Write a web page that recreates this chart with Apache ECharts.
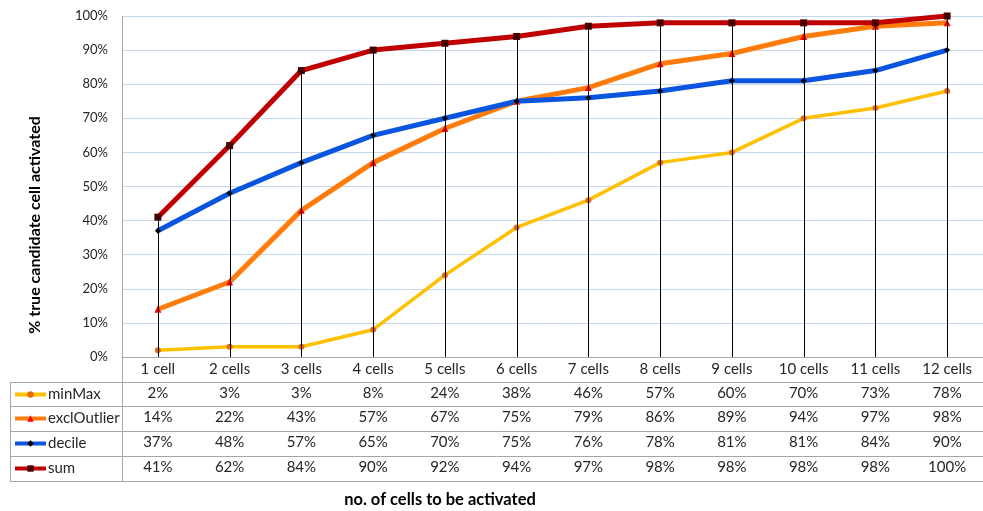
<!DOCTYPE html>
<html>
<head>
<meta charset="utf-8">
<script src="https://cdn.jsdelivr.net/npm/echarts@6/dist/echarts.min.js"></script>
<style>
  html, body { margin: 0; padding: 0; background: #fff; }
  #chart { width: 983px; height: 511px; }
</style>
</head>
<body>
<div id="chart"></div>
<script>
// Share of true candidate cells activated, by number of cells to activate
const categories = ['1 cell', '2 cells', '3 cells', '4 cells', '5 cells', '6 cells',
  '7 cells', '8 cells', '9 cells', '10 cells', '11 cells', '12 cells'];
const minMax      = [2, 3, 3, 8, 24, 38, 46, 57, 60, 70, 73, 78];
const exclOutlier = [14, 22, 43, 57, 67, 75, 79, 86, 89, 94, 97, 98];
const decile      = [37, 48, 57, 65, 70, 75, 76, 78, 81, 81, 84, 90];
const sum         = [41, 62, 84, 90, 92, 94, 97, 98, 98, 98, 98, 100];
const yTicks = [0, 10, 20, 30, 40, 50, 60, 70, 80, 90, 100];

const FONT = 'Lato';
const TXT = '#262626';

const rows = [
  { name: 'minMax', data: minMax, color: '#FFC000', width: 3.5, symbol: 'circle', symbolSize: 6, mark: '#E46C0A' },
  { name: 'exclOutlier', data: exclOutlier, color: '#FF7C0A', width: 5, symbol: 'triangle', symbolSize: 7, mark: '#FF0000' },
  { name: 'decile', data: decile, color: '#0A55E0', width: 5, symbol: 'diamond', symbolSize: 6, mark: '#000000' },
  { name: 'sum', data: sum, color: '#C00000', width: 5, symbol: 'rect', symbolSize: 7, mark: '#4A0000' }
];

// Drop lines reach from the top-most value at each category down to 0
const dropTop = categories.map((c, i) => Math.max(...rows.map(r => r.data[i])));

const gridLeft = 122, gridTop = 16, gridWidth = 872, gridBottom = 154;
const rowCenters = [395, 419, 444, 469];
const rowLines = [382, 406, 431, 456, 481];

const chart = echarts.init(document.getElementById('chart'), null, { renderer: 'canvas' });

// Data-table rows are drawn as extra category axes below the plot
const tableAxes = rows.map((r, k) => ({
  type: 'category',
  data: categories,
  gridIndex: 0,
  position: 'bottom',
  offset: rowCenters[k] - 371,
  axisLine: { show: false },
  axisTick: { show: false },
  splitLine: { show: false },
  axisLabel: {
    margin: 5,
    fontFamily: FONT, fontSize: 15, color: TXT,
    interval: 0,
    formatter: (v, i) => r.data[i] + '%'
  }
}));

const tableGraphics = [];
rowLines.forEach(y => {
  tableGraphics.push({
    type: 'line', silent: true,
    shape: { x1: 10, y1: y + 0.5, x2: 983, y2: y + 0.5 },
    style: { stroke: '#A6A6A6', lineWidth: 1 }
  });
});
tableGraphics.push({
  type: 'line', silent: true,
  shape: { x1: 10.5, y1: rowLines[0], x2: 10.5, y2: rowLines[4] + 1 },
  style: { stroke: '#A6A6A6', lineWidth: 1 }
});
tableGraphics.push({
  type: 'line', silent: true,
  shape: { x1: 122.5, y1: 357, x2: 122.5, y2: rowLines[4] + 1 },
  style: { stroke: '#A6A6A6', lineWidth: 1 }
});
// Value-axis title, centred a little below the plot's mid-height
tableGraphics.push({
  type: 'text', silent: true,
  x: 35, y: 225, rotation: Math.PI / 2,
  style: {
    text: '% true candidate cell activated',
    fontFamily: FONT, fontSize: 16, fontWeight: 'bold', fill: '#000',
    align: 'center', verticalAlign: 'middle'
  }
});
tableGraphics.push({
  type: 'text', silent: true,
  x: 440, y: 500,
  style: {
    text: 'no. of cells to be activated',
    fontFamily: FONT, fontSize: 16.5, fontWeight: 'bold', fill: '#000',
    align: 'center', verticalAlign: 'middle'
  }
});

const legends = rows.map((r, k) => ({
  data: [r.name],
  left: 13,
  top: rowCenters[k] - 8,
  padding: 0,
  itemWidth: 31,
  itemHeight: 8,
  itemGap: 0,
  selectedMode: false,
  lineStyle: { width: 4 },
  textStyle: { fontFamily: FONT, fontSize: 15, color: TXT, padding: [0, 0, 0, -3] }
}));

const lineSeries = rows.map(r => ({
  name: r.name,
  type: 'line',
  data: r.data,
  symbol: r.symbol,
  symbolSize: r.symbolSize,
  showAllSymbol: true,
  z: 3,
  lineStyle: { color: r.color, width: r.width },
  itemStyle: { color: r.mark, borderWidth: 0 },
  emphasis: { disabled: true },
  animation: false
}));

const dropSeries = {
  name: 'drop',
  type: 'custom',
  z: 4,
  silent: true,
  data: dropTop.map((v, i) => [i, v]),
  renderItem: (params, api) => {
    const top = api.coord([api.value(0), api.value(1)]);
    const bottom = api.coord([api.value(0), 0]);
    const x = Math.round(top[0]) + 0.5;
    return {
      type: 'line',
      shape: { x1: x, y1: top[1], x2: x, y2: bottom[1] },
      style: { stroke: '#000', lineWidth: 1 }
    };
  },
  animation: false
};

chart.setOption({
  backgroundColor: '#fff',
  animation: false,
  grid: { left: gridLeft, top: gridTop, width: gridWidth, bottom: gridBottom, containLabel: false },
  legend: legends,
  xAxis: [{
    type: 'category',
    data: categories,
    boundaryGap: true,
    axisLine: { show: true, lineStyle: { color: '#A6A6A6', width: 1 } },
    axisTick: { show: false },
    splitLine: { show: false },
    axisLabel: { margin: 5, interval: 0, fontFamily: FONT, fontSize: 15, color: TXT }
  }].concat(tableAxes),
  yAxis: {
    type: 'value',
    min: 0, max: 100, interval: 10,
    axisLine: { show: true, lineStyle: { color: '#A6A6A6', width: 1 } },
    axisTick: { show: false },
    axisLabel: {
      margin: 14, fontFamily: FONT, fontSize: 13, color: TXT,
      formatter: v => yTicks.includes(v) ? v + '%' : ''
    },
    splitLine: { show: true, lineStyle: { color: '#C6D6EC', width: 1 } }
  },
  graphic: tableGraphics,
  series: [dropSeries].concat(lineSeries)
});
</script>
</body>
</html>
